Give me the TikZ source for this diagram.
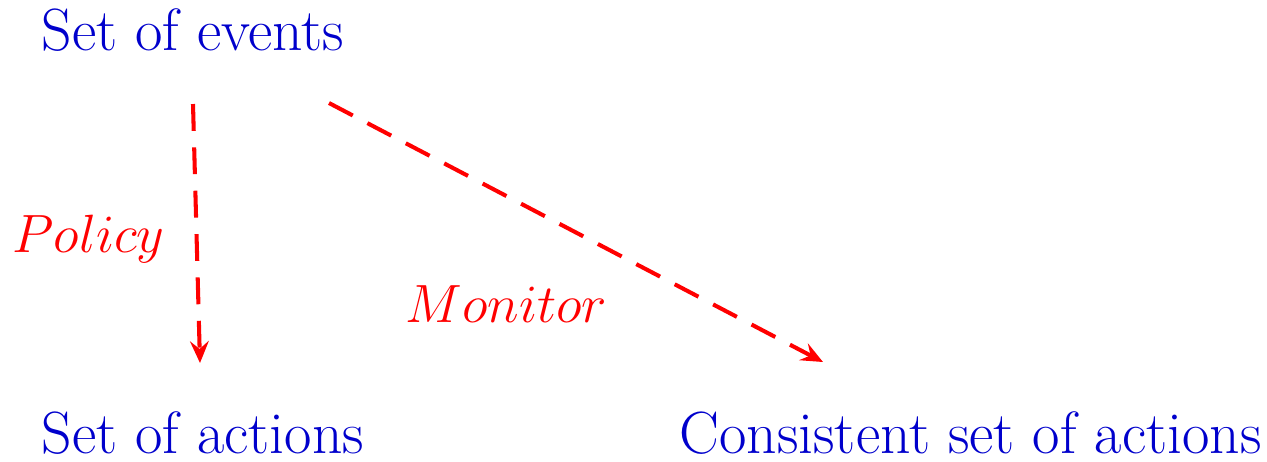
\documentclass[tikz,border=0pt]{standalone}
\usetikzlibrary{arrows.meta}
\definecolor{setblue}{RGB}{0,0,204}
\tikzset{
	setlabel/.style = {anchor=base west, inner sep=0pt, text=setblue, font=\fontsize{19.1}{23}\selectfont},
	maplabel/.style = {anchor=base west, inner sep=0pt, text=red, font=\LARGE\itshape},
	maparrow/.style = {draw=red, line width=1.3pt, dash pattern=on 8.6pt off 5.3pt,
		-{Stealth[length=7pt, width=6pt, inset=2.5pt]}}
}
\begin{document}
\begin{tikzpicture}[x = 0.3205pt, y = -0.3205pt]
		\useasboundingbox (0,0) rectangle (1267,461);
		\node [setlabel] (events) at (41,50) {Set of events};
		\node [setlabel] (actions) at (41,453) {Set of actions};
		\node [setlabel] (consistent) at (679,453) {Consistent set of actions};
		\coordinate (policy-from) at (193,104);
		\coordinate (policy-to) at (200,363);
		\coordinate (monitor-from) at (329,103);
		\coordinate (monitor-to) at (823,362);
		\path [maparrow] (policy-from) -- (policy-to);
		\path [maparrow] (monitor-from) -- (monitor-to);
		\node [maplabel] (policy) at (12,252) {$Policy$};
		\node [maplabel] (monitor) at (405,322) {$Monitor$};
	\end{tikzpicture}
\end{document}
